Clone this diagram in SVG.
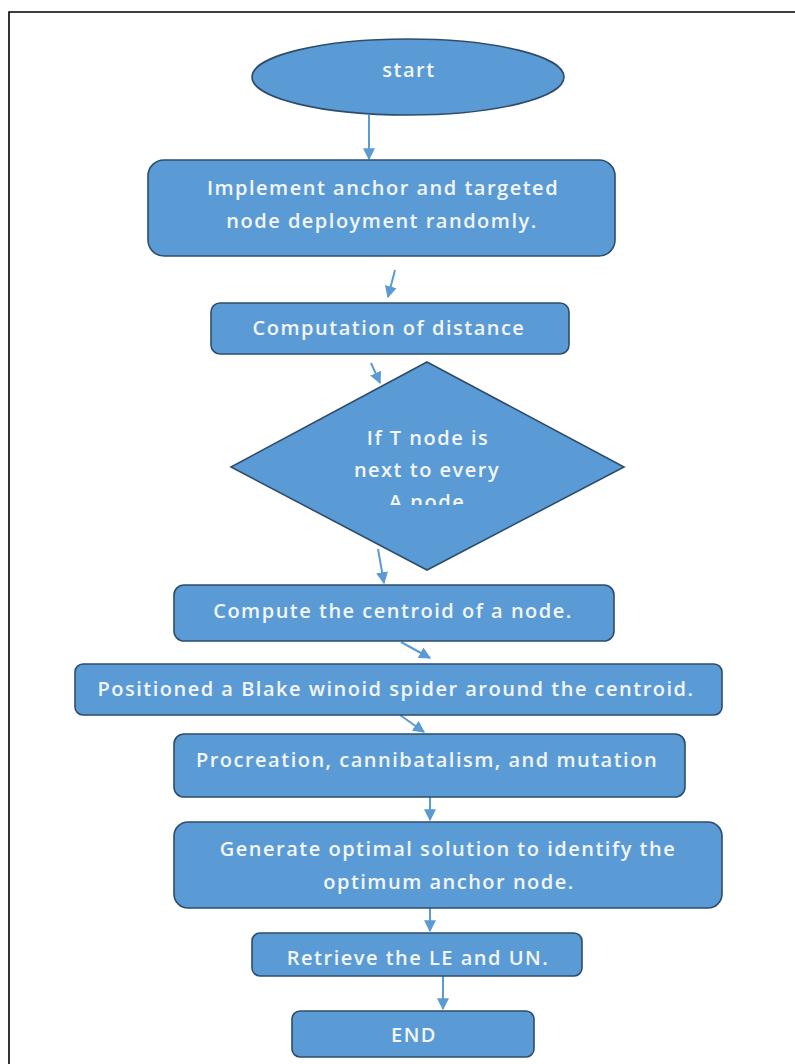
<svg xmlns="http://www.w3.org/2000/svg" width="795" height="1064" viewBox="0 0 795 1064">
<defs>
<style>
.n{fill:#5b9bd5;stroke:#2e4d6b;stroke-width:1.6}
.t{font-family:"Open Sans","Liberation Sans",sans-serif;font-size:20px;font-weight:600;letter-spacing:1.5px;fill:#f2f6fb;text-anchor:middle}
.c{stroke:#5b9bd5;stroke-width:2;fill:none;marker-end:url(#ah)}
</style>
<marker id="ah" viewBox="0 0 10 10" refX="9" refY="5" markerWidth="6" markerHeight="6" orient="auto" markerUnits="strokeWidth">
<path d="M0,0 L10,5 L0,10 z" fill="#5b9bd5"/>
</marker>
<clipPath id="clipA"><rect x="230" y="360" width="400" height="145"/></clipPath>
</defs>
<rect width="795" height="1064" fill="#ffffff"/>
<path d="M9,1064 V12 H795" fill="none" stroke="#000" stroke-width="1.6"/>
<g id="connectors">
<line class="c" x1="369" y1="115" x2="369" y2="159"/>
<line class="c" x1="395" y1="270" x2="388" y2="297"/>
<line class="c" x1="371" y1="363" x2="380" y2="383"/>
<line class="c" x1="378" y1="549" x2="384" y2="583"/>
<line class="c" x1="401" y1="642" x2="430" y2="658"/>
<line class="c" x1="400" y1="715" x2="424" y2="732"/>
<line class="c" x1="430" y1="797" x2="430" y2="820"/>
<line class="c" x1="430" y1="908" x2="430" y2="931"/>
<line class="c" x1="443" y1="976" x2="443" y2="1009"/>
</g>
<g id="start">
<ellipse class="n" cx="408" cy="77" rx="156" ry="38"/>
<text class="t" x="409" y="77">start</text>
</g>
<g id="deploy">
<rect class="n" x="148" y="160" width="467" height="96" rx="16"/>
<text class="t" x="383" y="195">Implement anchor and targeted</text>
<text class="t" x="382" y="228">node deployment randomly.</text>
</g>
<g id="distance">
<rect class="n" x="211" y="303" width="358" height="51" rx="9"/>
<text class="t" x="389" y="335">Computation of distance</text>
</g>
<g id="decision">
<polygon class="n" points="427,362 624,467 427,570 231,467"/>
<text class="t" x="428" y="445">If T node is</text>
<text class="t" x="427" y="477">next to every</text>
<text class="t" x="427" y="509" clip-path="url(#clipA)">A node</text>
</g>
<g id="centroid">
<rect class="n" x="174" y="585" width="440" height="56" rx="10"/>
<text class="t" x="393" y="618">Compute the centroid of a node.</text>
</g>
<g id="position">
<rect class="n" x="75" y="664" width="647" height="51" rx="8"/>
<text class="t" x="396" y="696">Positioned a Blake winoid spider around the centroid.</text>
</g>
<g id="procreation">
<rect class="n" x="174" y="734" width="511" height="63" rx="10"/>
<text class="t" x="427" y="767">Procreation, cannibatalism, and mutation</text>
</g>
<g id="generate">
<rect class="n" x="174" y="822" width="548" height="86" rx="14"/>
<text class="t" x="448" y="856">Generate optimal solution to identify the</text>
<text class="t" x="449" y="889">optimum anchor node.</text>
</g>
<g id="retrieve">
<rect class="n" x="252" y="933" width="330" height="43" rx="8"/>
<text class="t" x="418" y="965">Retrieve the LE and UN.</text>
</g>
<g id="end">
<rect class="n" x="292" y="1011" width="242" height="46" rx="8"/>
<text class="t" x="414" y="1042">END</text>
</g>
</svg>
